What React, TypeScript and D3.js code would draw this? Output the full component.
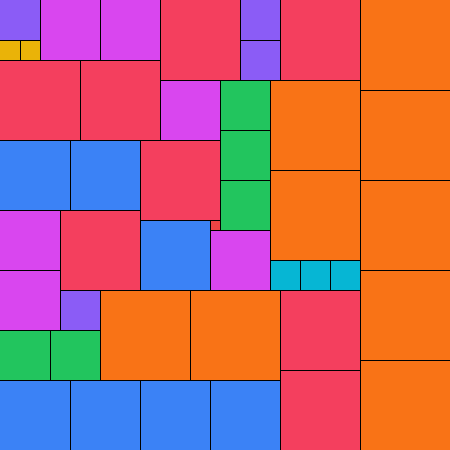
import React from "react";
import * as d3 from "d3";

// Squares of the tiling: side (in grid units), column and row of the top-left corner
const sides = [
  9, 9, 9, 9, 9, 9, 9, 9, 9,
  8, 8, 8, 8, 8, 8, 8, 8,
  7, 7, 7, 7, 7, 7, 7,
  6, 6, 6, 6, 6, 6,
  5, 5, 5, 5, 5,
  4, 4, 4, 4,
  3, 3, 3,
  2, 2,
  1,
];
const cols = [
  36, 36, 36, 36, 36, 27, 27, 10, 19,
  16, 28, 0, 8, 14, 6, 28, 28,
  0, 7, 14, 0, 7, 14, 21,
  4, 10, 16, 0, 0, 21,
  22, 22, 22, 0, 5,
  0, 24, 24, 6,
  27, 30, 33,
  0, 2,
  21,
];
const rows = [
  0, 9, 18, 27, 36, 8, 17, 29, 29,
  0, 0, 6, 6, 14, 21, 29, 37,
  14, 14, 22, 38, 38, 38, 38,
  0, 0, 8, 21, 27, 23,
  8, 13, 18, 33, 33,
  0, 0, 4, 29,
  26, 26, 26,
  4, 4,
  22,
];
const sizeKeys = [9, 8, 7, 6, 5, 4, 3, 2, 1];
const sizeColors = [
  "#f97316",
  "#f43f5e",
  "#3b82f6",
  "#d946ef",
  "#22c55e",
  "#8b5cf6",
  "#06b6d4",
  "#eab308",
  "#ef4444",
];
const GRID = 45;

export default function App() {
  const W = 450;
  const s = d3.scaleLinear().domain([0, GRID]).range([0, W]);
  const color = d3.scaleOrdinal<number, string>().domain(sizeKeys).range(sizeColors);
  const cells = sides.map((k, i) => ({
    k,
    x: s(cols[i]),
    y: s(rows[i]),
    w: s(k) - s(0),
  }));
  return (
    <svg
      width={W}
      height={W}
      style={{ position: "absolute", left: 0, top: 0, display: "block" }}
    >
      <g>
        {cells.map((c, i) => (
          <rect key={i} x={c.x} y={c.y} width={c.w} height={c.w} fill={color(c.k)} />
        ))}
      </g>
      <g stroke="#000" strokeWidth={1} fill="none" shapeRendering="crispEdges">
        {cells.map((c, i) => (
          <path
            key={i}
            d={`M${c.x + c.w + 0.5},${c.y}V${c.y + c.w + 1}M${c.x},${c.y + c.w + 0.5}H${c.x + c.w + 1}`}
          />
        ))}
      </g>
    </svg>
  );
}
